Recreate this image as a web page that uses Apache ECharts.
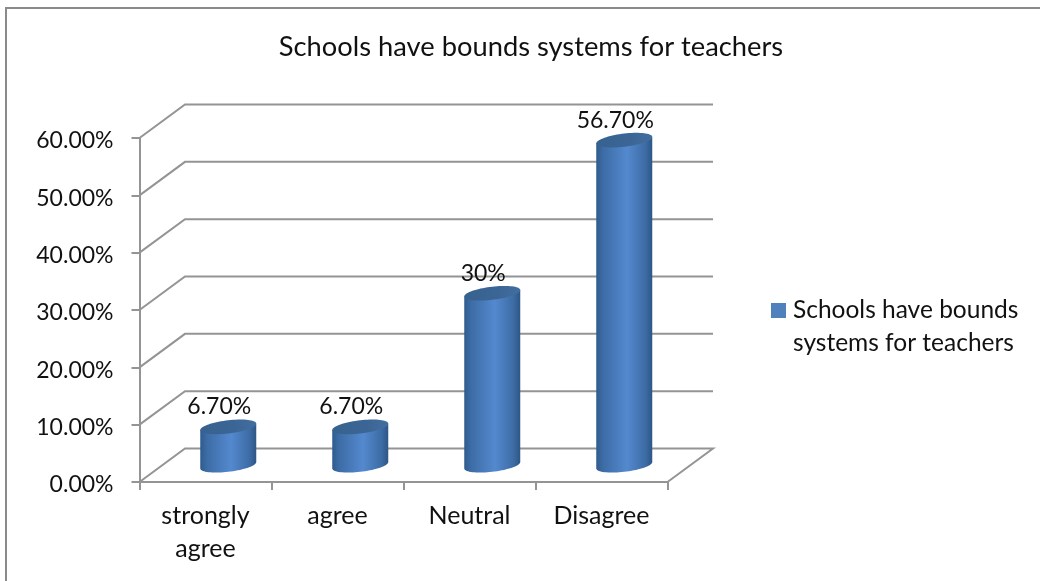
<!DOCTYPE html>
<html>
<head>
<meta charset="utf-8">
<style>html,body{margin:0;padding:0;background:#fff}#c{width:1040px;height:581px}</style>
<script src="https://cdn.jsdelivr.net/npm/echarts@6/dist/echarts.min.js"></script>
</head>
<body>
<div id="c"></div>
<script>
var titleText = 'Schools have bounds systems for teachers';
var categories = ['strongly\nagree', 'agree', 'Neutral', 'Disagree'];
var values = [6.7, 6.7, 30, 56.7];
var valueLabels = ['6.70%', '6.70%', '30%', '56.70%'];
var gridTicks = [0, 10, 20, 30, 40, 50, 60];

var FONT = 'Lato, Carlito, sans-serif';
var TEXT = '#111111';
var LINE = '#949494';
var DX = 45.5, DY = 33.5;
var RX = 28, RY = 6.6, TILT = 3.2;

function ellipsePoint(cx, cy, t) {
  return [cx + RX * Math.cos(t), cy + RY * Math.sin(t) - TILT * Math.cos(t)];
}
function ellipse(cx, cy) {
  var pts = [];
  for (var i = 0; i < 72; i++) pts.push(ellipsePoint(cx, cy, i / 72 * Math.PI * 2));
  return pts;
}

function renderWall(params, api) {
  var cs = params.coordSys;
  var y = api.coord([0, api.value(1)])[1];
  var x0 = cs.x, x1 = cs.x + cs.width;
  var pts = [[x0, y], [x0 + DX, y - DY], [x1 + DX, y - DY]];
  if (api.value(1) === 0) pts.push([x1, y]);
  return {
    type: 'polyline', shape: {points: pts},
    style: {stroke: LINE, lineWidth: 2, fill: null}, silent: true
  };
}

function renderCylinder(params, api) {
  var idx = params.dataIndex;
  var base = api.coord([idx, 0]);
  var top = api.coord([idx, api.value(1)]);
  var cx = base[0] + DX / 2;
  var by = base[1] - DY / 2;
  var ty = top[1] - DY / 2;
  var body = [ellipsePoint(cx, ty, 0)];
  for (var i = 0; i <= 36; i++) body.push(ellipsePoint(cx, by, i / 36 * Math.PI));
  body.push(ellipsePoint(cx, ty, Math.PI));
  return {
    type: 'group',
    children: [
      {
        type: 'polygon', shape: {points: body},
        style: {fill: new echarts.graphic.LinearGradient(0, 0, 1, 0, [
          {offset: 0, color: '#2f5b8d'},
          {offset: 0.12, color: '#3d6ca6'},
          {offset: 0.55, color: '#5489cf'},
          {offset: 0.88, color: '#3d6ca5'},
          {offset: 1, color: '#2c5685'}
        ])}
      },
      {
        type: 'polygon', shape: {points: ellipse(cx, ty)},
        style: {fill: new echarts.graphic.LinearGradient(0, 0, 1, 0, [
          {offset: 0, color: '#37628f'},
          {offset: 0.6, color: '#3b6595'},
          {offset: 1, color: '#426e9f'}
        ])}
      },
      {
        type: 'text',
        style: {
          text: valueLabels[idx], x: cx - 9, y: ty - 20,
          align: 'center', verticalAlign: 'middle',
          fontFamily: FONT, fontSize: 23, fill: TEXT
        }
      }
    ]
  };
}

var chart = echarts.init(document.getElementById('c'), null, {renderer: 'canvas'});
chart.setOption({
  animation: false,
  backgroundColor: '#ffffff',
  title: {
    text: titleText, left: 526, top: 29, textAlign: 'center',
    textStyle: {fontFamily: FONT, fontSize: 27.3, fontWeight: 'normal', color: TEXT}
  },
  legend: {
    left: 771, top: 261, orient: 'vertical',
    itemWidth: 15, itemHeight: 15, itemGap: 0, padding: 0,
    data: [{name: titleText, icon: 'rect', itemStyle: {color: '#4f81bd'}}],
    formatter: function () { return '\nSchools have bounds\nsystems for teachers'; },
    textStyle: {fontFamily: FONT, fontSize: 24.5, color: TEXT, lineHeight: 33, padding: [0, 0, 0, 2]},
    selectedMode: false
  },
  grid: {left: 139.5, top: 138, width: 528, height: 344, containLabel: false},
  xAxis: {
    type: 'category', data: categories,
    axisLine: {lineStyle: {color: LINE, width: 2}},
    axisTick: {show: true, length: 8, lineStyle: {color: LINE, width: 2}},
    axisLabel: {interval: 0, margin: 17, fontFamily: FONT, fontSize: 25, color: TEXT, lineHeight: 33},
    splitLine: {show: false}
  },
  yAxis: {
    type: 'value', min: 0, max: 60, interval: 10,
    axisLine: {show: true, lineStyle: {color: LINE, width: 2}},
    axisTick: {show: true, length: 8, lineStyle: {color: LINE, width: 2}},
    axisLabel: {
      margin: 26, color: TEXT,
      formatter: function (v) { return '{t|' + v.toFixed(2) + '%}'; },
      rich: {t: {fontFamily: FONT, fontSize: 23, color: TEXT, padding: [6, 0, 0, 0]}}
    },
    splitLine: {show: false}
  },
  graphic: [{
    type: 'polyline', silent: true,
    shape: {points: [[6, 581], [6, 8], [1040, 8]]},
    style: {stroke: '#8a8a8a', lineWidth: 2, fill: null}
  }],
  series: [
    {
      type: 'custom', name: 'walls', coordinateSystem: 'cartesian2d',
      renderItem: renderWall, silent: true, z: 1,
      data: gridTicks.map(function (t) { return [0, t]; }),
      encode: {x: 0, y: 1}
    },
    {
      type: 'custom', name: titleText, coordinateSystem: 'cartesian2d',
      renderItem: renderCylinder, z: 3,
      itemStyle: {color: '#4f81bd'},
      data: values.map(function (v, i) { return [i, v]; }),
      encode: {x: 0, y: 1}
    }
  ]
});
</script>
</body>
</html>
